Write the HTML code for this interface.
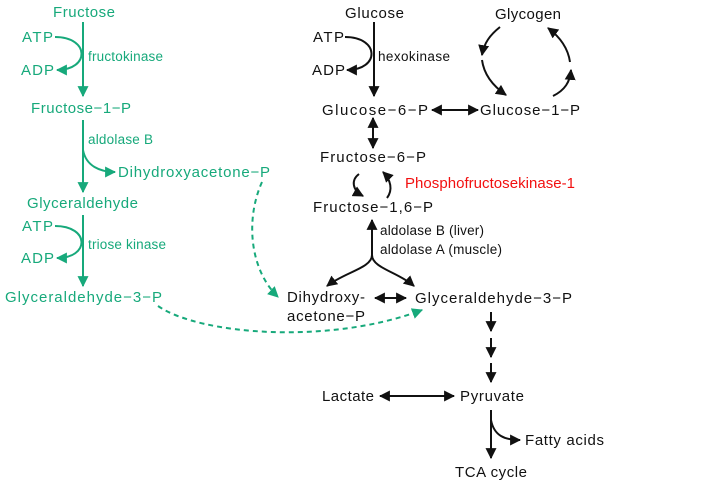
<!DOCTYPE html>
<html><head><meta charset="utf-8"><style>
html,body{margin:0;padding:0;background:#fff}
svg{display:block}
text{font-family:"Liberation Sans",Arial,sans-serif;font-size:15px}
.g{fill:#17a97b}.k{fill:#111}
.s{font-size:13.5px}
</style></head><body>
<svg width="721" height="483" viewBox="0 0 721 483" xmlns="http://www.w3.org/2000/svg">
<defs>
<marker id="ag" viewBox="0 0 10 10" refX="9" refY="5" markerWidth="11" markerHeight="11" markerUnits="userSpaceOnUse" orient="auto-start-reverse"><path d="M0,0L10,5L0,10z" fill="#17a97b"/></marker>
<marker id="ak" viewBox="0 0 10 10" refX="9" refY="5" markerWidth="11" markerHeight="11" markerUnits="userSpaceOnUse" orient="auto-start-reverse"><path d="M0,0L10,5L0,10z" fill="#111"/></marker>
</defs>
<g fill="none" stroke="#17a97b" stroke-width="2">
<path d="M83,22V96" marker-end="url(#ag)"/>
<path d="M55,37C90,37 90,70 57,70" marker-end="url(#ag)"/>
<path d="M83,120V192" marker-end="url(#ag)"/>
<path d="M83,150C86,166 100,172 115,172" marker-end="url(#ag)"/>
<path d="M83,215V286" marker-end="url(#ag)"/>
<path d="M55,226C90,226 90,258 57,258" marker-end="url(#ag)"/>
<path d="M262,182C245,220 250,270 278,297" stroke-dasharray="5,4" marker-end="url(#ag)"/>
<path d="M158,306C200,335 330,345 422,310" stroke-dasharray="5,4" marker-end="url(#ag)"/>
</g>
<g fill="none" stroke="#111" stroke-width="2">
<path d="M374,22V96" marker-end="url(#ak)"/>
<path d="M345,37C380,37 380,70 347,70" marker-end="url(#ak)"/>
<path d="M432,110H478" marker-start="url(#ak)" marker-end="url(#ak)"/>
<path d="M373,118V148" marker-start="url(#ak)" marker-end="url(#ak)"/>
<path d="M500,27C490,35 484,43 482,55" marker-end="url(#ak)"/>
<path d="M482,60C484,75 493,86 506,95" marker-end="url(#ak)"/>
<path d="M553,96C565,90 570,82 571,70" marker-end="url(#ak)"/>
<path d="M570,62C568,48 560,37 548,28" marker-end="url(#ak)"/>
<path d="M359,174C351,180 352,190 363,196" marker-end="url(#ak)"/>
<path d="M387,198C393,190 391,180 383,172" marker-end="url(#ak)"/>
<path d="M372,256V220" marker-end="url(#ak)"/>
<path d="M372,255C372,268 345,272 327,286" marker-end="url(#ak)"/>
<path d="M372,255C372,268 398,272 414,286" marker-end="url(#ak)"/>
<path d="M375,298H406" marker-start="url(#ak)" marker-end="url(#ak)"/>
<path d="M491,312V331" marker-end="url(#ak)"/>
<path d="M491,338V357" marker-end="url(#ak)"/>
<path d="M491,363V382" marker-end="url(#ak)"/>
<path d="M380,396H454" marker-start="url(#ak)" marker-end="url(#ak)"/>
<path d="M491,410V458" marker-end="url(#ak)"/>
<path d="M491,420C494,436 505,440 520,440" marker-end="url(#ak)"/>
</g>
<g class="g">
<text x="53" y="17" textLength="62">Fructose</text>
<text x="22" y="42" textLength="31">ATP</text>
<text x="21" y="75" textLength="33">ADP</text>
<text x="88" y="61" class="s" textLength="75">fructokinase</text>
<text x="31" y="113" textLength="100">Fructose−1−P</text>
<text x="88" y="144" class="s" textLength="65">aldolase B</text>
<text x="118" y="177" textLength="152">Dihydroxyacetone−P</text>
<text x="27" y="208" textLength="111">Glyceraldehyde</text>
<text x="22" y="231" textLength="31">ATP</text>
<text x="21" y="263" textLength="33">ADP</text>
<text x="88" y="249" class="s" textLength="78">triose kinase</text>
<text x="5" y="302" textLength="157">Glyceraldehyde−3−P</text>
</g>
<g class="k">
<text x="345" y="18" textLength="59">Glucose</text>
<text x="313" y="42" textLength="31">ATP</text>
<text x="312" y="75" textLength="33">ADP</text>
<text x="378" y="61" class="s" textLength="72">hexokinase</text>
<text x="322" y="115" textLength="106">Glucose−6−P</text>
<text x="480" y="115" textLength="100">Glucose−1−P</text>
<text x="495" y="19" textLength="66">Glycogen</text>
<text x="320" y="162" textLength="106">Fructose−6−P</text>
<text x="405" y="188" fill="#f21010" textLength="170">Phosphofructosekinase-1</text>
<text x="313" y="212" textLength="120">Fructose−1,6−P</text>
<text x="380" y="235" class="s" textLength="104">aldolase B (liver)</text>
<text x="380" y="254" class="s" textLength="122">aldolase A (muscle)</text>
<text x="287" y="302" textLength="78">Dihydroxy-</text>
<text x="287" y="321" textLength="78">acetone−P</text>
<text x="415" y="303" textLength="157">Glyceraldehyde−3−P</text>
<text x="322" y="401" textLength="52">Lactate</text>
<text x="460" y="401" textLength="64">Pyruvate</text>
<text x="525" y="445" textLength="79">Fatty acids</text>
<text x="455" y="477" textLength="72">TCA cycle</text>
</g>
</svg>
</body></html>
